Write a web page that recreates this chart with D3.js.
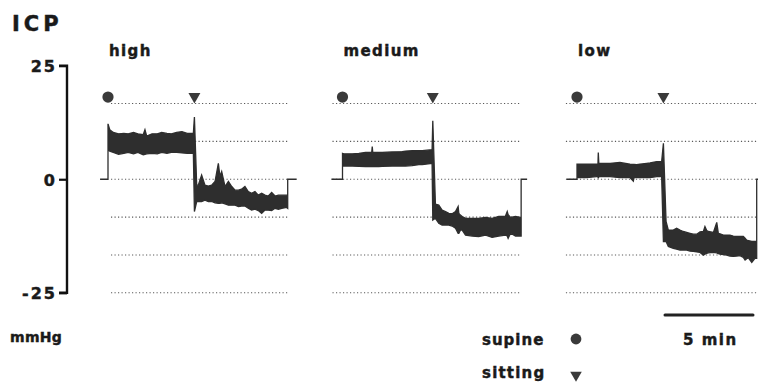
<!DOCTYPE html>
<html>
<head>
<meta charset="utf-8">
<script src="https://cdnjs.cloudflare.com/ajax/libs/d3/7.8.5/d3.min.js"></script>
<style>
  html, body { margin: 0; padding: 0; background: #fff; }
  svg { display: block; }
  text { font-family: "DejaVu Sans", "Liberation Sans", Arial, sans-serif; font-weight: 700; fill: #1a1a1a;
         stroke: #1a1a1a; stroke-width: 0.45px; paint-order: stroke; }
</style>
</head>
<body>
<div id="chart"></div>
<script>
// ---------------- data ----------------
const panels = ["high", "medium", "low"];
const yTicks = [25, 0, -25];
const gridValues = [16.67, 8.33, 0, -8.33, -16.67, -25];
const gridStart = [0.17, -0.57, -0.63];   // minutes
const gridEnd = [10.3, 10.1, 10.7];
const supineTime = [0, 0, 0];
const sittingTime = [4.91, 5.13, 4.91];
const markerLevel = 18.1;                  // mmHg, where the position markers sit
const scaleBarMinutes = [5, 10];

const highTime = [-0.45, 0, 0, 0.1, 0.3, 0.6, 0.9, 1.15, 1.45, 1.7, 2.0, 2.1, 2.2, 2.5, 2.8, 3.05, 3.35, 3.6, 3.9, 4.2, 4.5, 4.85, 4.91, 5.04, 5.13, 5.32, 5.51, 5.70, 5.89, 6.08, 6.27, 6.36, 6.46, 6.65, 6.84, 7.03, 7.22, 7.41, 7.59, 7.78, 7.97, 8.16, 8.35, 8.54, 8.73, 8.92, 9.11, 9.30, 9.49, 9.68, 9.87, 10.15, 10.21, 10.21, 10.72];
const highUpper = [0, 0, 12.2, 10.9, 10.3, 10.0, 10.1, 10.0, 10.3, 10.0, 9.8, 10.9, 9.5, 10.0, 10.0, 10.3, 10.1, 10.0, 10.3, 10.5, 10.1, 10.1, 13.7, -1.3, -1.3, 0.9, -1.3, -1.5, -1.3, -0.5, 3.5, 0.6, 1.7, -1.6, -0.5, -1.6, -2.4, -2.4, -2.2, -1.6, -2.7, -3.1, -2.7, -3.5, -3.1, -3.5, -3.7, -2.9, -3.7, -3.5, -3.5, -3.5, -3.5, 0, 0];
const highLower = [0, 0, 6.5, 6.2, 5.9, 5.5, 5.7, 5.9, 5.6, 5.9, 5.4, 5.5, 5.6, 5.7, 5.6, 5.9, 5.7, 5.9, 5.9, 5.8, 5.7, 5.7, -7.1, -4.9, -4.9, -4.9, -4.6, -4.9, -4.9, -5.2, -5.3, -5.3, -5.2, -5.4, -5.7, -5.7, -5.7, -6.0, -5.9, -5.9, -6.4, -6.8, -6.6, -6.9, -7.5, -6.8, -6.8, -6.9, -6.4, -6.6, -6.4, -6.2, -6.4, 0, 0];

const mediumTime = [-0.63, 0, 0, 0.08, 0.55, 0.93, 1.31, 1.66, 1.69, 1.72, 2.06, 2.25, 2.82, 3.39, 3.58, 3.96, 4.34, 4.53, 5.09, 5.13, 5.28, 5.47, 5.66, 5.85, 6.04, 6.23, 6.42, 6.57, 6.61, 6.70, 6.80, 6.99, 7.37, 7.74, 8.13, 8.50, 8.88, 9.26, 9.36, 9.41, 9.55, 9.83, 10.11, 10.15, 10.15, 10.49];
const mediumUpper = [0, 0, 5.7, 5.6, 5.6, 5.7, 5.9, 5.9, 7.2, 5.9, 5.9, 5.9, 6.0, 6.1, 6.2, 6.3, 6.3, 6.3, 6.5, 12.9, -5.5, -5.7, -6.8, -7.1, -7.5, -7.6, -7.1, -6.0, -7.5, -7.9, -8.2, -8.6, -8.6, -8.6, -8.4, -8.6, -8.2, -8.1, -7.1, -7.8, -8.4, -8.2, -8.4, -8.4, 0, 0];
const mediumLower = [0, 0, 2.9, 2.9, 2.9, 2.85, 2.8, 2.8, 2.8, 2.8, 2.8, 2.85, 2.9, 2.9, 2.9, 3.0, 3.2, 3.2, 3.5, -9.0, -8.6, -9.7, -10.1, -10.1, -10.1, -10.3, -10.8, -11.9, -11.9, -11.2, -11.2, -12.3, -12.5, -12.6, -12.3, -12.8, -12.5, -12.3, -12.5, -13.0, -11.9, -12.5, -12.5, -12.5, 0, 0];

const lowTime = [-0.59, 0, 0, 0.55, 1.12, 1.19, 1.21, 1.24, 1.31, 1.88, 2.44, 3.01, 3.20, 3.24, 3.39, 3.58, 3.96, 4.15, 4.53, 4.81, 4.91, 5.06, 5.19, 5.47, 5.66, 5.85, 6.04, 6.23, 6.42, 6.61, 6.80, 6.99, 7.18, 7.27, 7.37, 7.46, 7.75, 7.94, 8.03, 8.13, 8.32, 8.50, 8.69, 8.88, 9.07, 9.26, 9.45, 9.55, 9.64, 9.74, 9.93, 10.11, 10.21, 10.21, 10.7];
const lowUpper = [0, 0, 3.3, 3.3, 3.3, 3.3, 5.9, 3.5, 3.5, 3.5, 3.7, 3.3, 3.25, 3.25, 3.2, 3.3, 3.5, 3.6, 3.9, 3.9, 7.9, -9.3, -11.2, -11.2, -10.8, -11.2, -11.5, -11.7, -11.9, -12.1, -12.1, -11.6, -11.5, -10.4, -11.3, -11.5, -11.7, -9.5, -11.9, -12.0, -12.3, -12.3, -12.3, -12.5, -12.6, -12.6, -12.6, -13.0, -13.4, -13.5, -13.7, -13.7, -13.7, 0, 0];
const lowLower = [0, 0, 0.35, 0.35, 0.6, 0.6, 0.2, 0.6, 0.6, 0.6, 0.35, 0.35, -0.4, 0.35, 0.35, 0.35, 0.35, 0.35, 0.6, 0.6, -13.7, -13.7, -14.8, -15.2, -15.4, -15.6, -15.6, -15.6, -15.8, -15.9, -16.0, -16.1, -16.7, -16.5, -16.3, -16.2, -16.1, -16.2, -16.4, -16.5, -16.6, -16.7, -16.9, -17.0, -16.9, -16.8, -17.2, -17.8, -17.5, -17.3, -18.3, -17.4, -17.4, 0, 0];

const traces = [
  { time: highTime, upper: highUpper, lower: highLower },
  { time: mediumTime, upper: mediumUpper, lower: mediumLower },
  { time: lowTime, upper: lowUpper, lower: lowLower }
];

// ---------------- layout ----------------
const W = 758, H = 382;
const ink = "#2e2e2e";
const svg = d3.select("#chart").append("svg").attr("width", W).attr("height", H);
svg.append("rect").attr("width", W).attr("height", H).attr("fill", "#fff");

const y = d3.scaleLinear().domain([-25, 25]).range([292.8, 65.7]);
const panelX = d3.scalePoint().domain(panels).range([108, 577]);
const minutesPx = 17.6;
function xScaleFor(p) {
  const x0 = panelX(p);
  return d3.scaleLinear().domain([0, 10]).range([x0, x0 + 10 * minutesPx]);
}

// Title
svg.append("text").attr("x", 12).attr("y", 31).attr("font-size", 21)
  .attr("letter-spacing", 4).text("ICP");

// Y axis
const axisG = svg.append("g").attr("transform", "translate(67,0)");
axisG.call(d3.axisLeft(y).tickValues(yTicks).tickSize(8).tickPadding(2).tickFormat(d => String(d)));
axisG.select(".domain").attr("stroke", "#111").attr("stroke-width", 2.4)
  .attr("d", `M-8,${y(25)}H0V${y(-25)}H-8`);
axisG.selectAll(".tick line").attr("stroke", "#111").attr("stroke-width", 2.2);
axisG.selectAll(".tick text").attr("font-size", 16).attr("letter-spacing", 2)
  .attr("fill", "#1a1a1a").attr("font-family", "'DejaVu Sans', 'Liberation Sans', Arial, sans-serif")
  .attr("font-weight", 700).attr("dy", "0.36em");

svg.append("text").attr("x", 10).attr("y", 342).attr("font-size", 14)
  .attr("letter-spacing", 0.3).text("mmHg");

// Panels
panels.forEach((p, i) => {
  const x = xScaleFor(p);
  const g = svg.append("g");

  // dotted grid lines
  g.selectAll("line.grid").data(gridValues).join("line")
    .attr("class", "grid")
    .attr("x1", x(gridStart[i])).attr("x2", x(gridEnd[i]))
    .attr("y1", d => y(d)).attr("y2", d => y(d))
    .attr("stroke", "#5a5a5a").attr("stroke-width", 1.1)
    .attr("stroke-dasharray", "1.2 2.3");

  // panel title
  g.append("text").attr("x", x(0) + 1).attr("y", 56).attr("font-size", 15)
    .attr("letter-spacing", 1.4).text(p);

  // trace band
  const tr = traces[i];
  const pts = tr.time.map((t, k) => ({ t, hi: tr.upper[k], lo: tr.lower[k] }));
  const area = d3.area().x(d => x(d.t)).y0(d => y(d.lo)).y1(d => y(d.hi));
  g.append("path").datum(pts).attr("d", area)
    .attr("fill", ink).attr("stroke", ink).attr("stroke-width", 1.3)
    .attr("stroke-linejoin", "miter");

  // markers
  g.append("circle").attr("cx", x(supineTime[i])).attr("cy", y(markerLevel)).attr("r", 5.6)
    .attr("fill", "#3a3a3a");
  g.append("path").attr("d", d3.symbol().type(d3.symbolTriangle).size(62))
    .attr("transform", `translate(${x(sittingTime[i])},${y(markerLevel) - 0.5}) rotate(180)`)
    .attr("fill", "#3a3a3a");
});

// scale bar
const xl = xScaleFor("low");
svg.append("line").attr("x1", xl(scaleBarMinutes[0])).attr("x2", xl(scaleBarMinutes[1]))
  .attr("y1", 315).attr("y2", 315).attr("stroke", "#222").attr("stroke-width", 3)
  .attr("stroke-linecap", "round");
svg.append("text").attr("x", 683).attr("y", 345).attr("font-size", 15)
  .attr("letter-spacing", 1.5).text("5 min");

// legend
svg.append("text").attr("x", 482).attr("y", 345).attr("font-size", 15)
  .attr("letter-spacing", 1).text("supine");
svg.append("circle").attr("cx", 576).attr("cy", 339).attr("r", 5.4).attr("fill", "#3a3a3a");
svg.append("text").attr("x", 482).attr("y", 378).attr("font-size", 15)
  .attr("letter-spacing", 1.2).text("sitting");
svg.append("path").attr("d", d3.symbol().type(d3.symbolTriangle).size(58))
  .attr("transform", "translate(576,375) rotate(180)").attr("fill", "#3a3a3a");
</script>
</body>
</html>
